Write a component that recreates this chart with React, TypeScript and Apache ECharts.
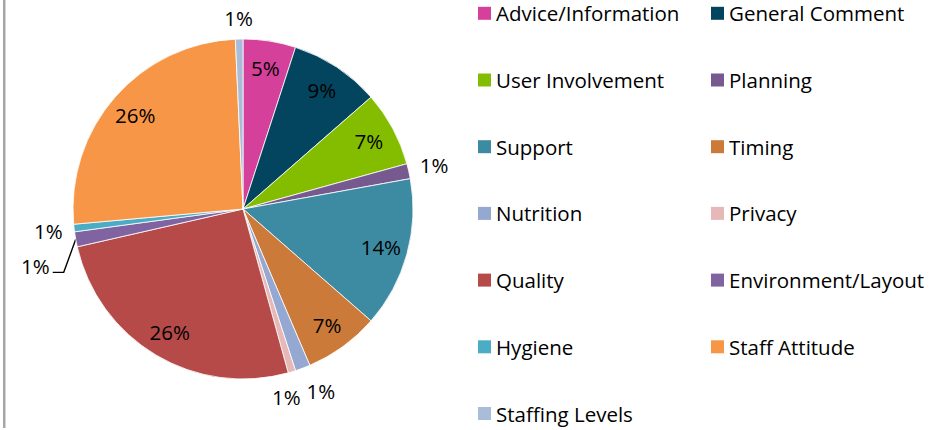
import React, { useEffect, useRef } from "react";
import * as echarts from "echarts";

const categories = [
  "Advice/Information",
  "General Comment",
  "User Involvement",
  "Planning",
  "Support",
  "Timing",
  "Nutrition",
  "Privacy",
  "Quality",
  "Environment/Layout",
  "Hygiene",
  "Staff Attitude",
  "Staffing Levels",
];
const values = [7, 12, 10, 2, 20, 10, 2, 1, 36, 2, 1, 36, 1];
const colors = [
  "#D4409A",
  "#03455E",
  "#84BD00",
  "#75598F",
  "#3D8BA3",
  "#CB7A39",
  "#94A8D2",
  "#E6B8B7",
  "#B54A48",
  "#8064A2",
  "#4BACC6",
  "#F79646",
  "#A9BCD9",
];
const leaderLabel = "Environment/Layout";

const FONT = "'Open Sans', 'Noto Sans', sans-serif";

export default function App() {
  const ref = useRef<HTMLDivElement>(null);
  useEffect(() => {
    document.body.style.margin = "0";
    const chart = echarts.init(ref.current!, undefined, { renderer: "svg" });
    const total = values.reduce((a, b) => a + b, 0);
    const pct = (v: number) => Math.round((v / total) * 100);
    const fmt = (p: any) => Math.round(p.percent) + "%";
    const center = [243, 209];
    const labelStyle = { color: "#000", fontSize: 20.5, fontFamily: FONT };

    const mainData = categories.map((name, i) => ({
      name,
      value: values[i],
      itemStyle: { color: colors[i] },
      label: { show: name === leaderLabel },
      labelLine: { show: name === leaderLabel },
    }));
    const innerData = categories.map((name, i) => ({
      name,
      value: values[i],
      label: { show: pct(values[i]) >= 3 },
    }));
    const outerData = categories.map((name, i) => ({
      name,
      value: values[i],
      label: { show: pct(values[i]) < 3 && name !== leaderLabel },
    }));

    const legendItem = (i: number) => ({
      name: categories[i],
      itemStyle: { color: colors[i] },
    });
    const leftIdx = categories.map((_, i) => i).filter((i) => i % 2 === 0);
    const rightIdx = categories.map((_, i) => i).filter((i) => i % 2 === 1);
    const legendBase = {
      orient: "vertical",
      top: 2.3,
      padding: 0,
      itemWidth: 13,
      itemHeight: 13,
      itemGap: 44.7,
      icon: "rect",
      selectedMode: false,
      textStyle: {
        color: "#000",
        fontSize: 20.5,
        fontFamily: FONT,
        lineHeight: 22,
      },
      itemStyle: { borderWidth: 0 },
    };

    // nudges for crowded small labels (Excel-style)
    const outerNudge: Record<string, [number, number]> = {
      Nutrition: [9, -2],
      Privacy: [-13, 0],
      "Staffing Levels": [0, 5],
    };

    chart.setOption({
      animation: false,
      legend: [
        { ...legendBase, left: 478, data: leftIdx.map(legendItem) },
        { ...legendBase, left: 711, data: rightIdx.map(legendItem) },
      ],
      graphic: [
        {
          type: "rect",
          shape: { x: 3, y: 0, width: 2.5, height: 428 },
          style: { fill: "#A6A6A6" },
          silent: true,
        },
      ],
      series: [
        {
          type: "pie",
          center,
          radius: [0, 170],
          startAngle: 90,
          clockwise: true,
          avoidLabelOverlap: false,
          silent: true,
          itemStyle: { borderColor: "#ffffff", borderWidth: 0.8 },
          label: {
            position: "outside",
            formatter: fmt,
            ...labelStyle,
          },
          labelLine: {
            length: 18,
            length2: 10,
            lineStyle: { color: "#000", width: 1.4 },
          },
          labelLayout: (p: any) => {
            if (p.dataIndex !== categories.indexOf(leaderLabel)) return {};
            const pts = p.labelLinePoints;
            if (!pts || !pts[0]) return {};
            const [x0, y0] = pts[0];
            const y1 = y0 + 33;
            const x1 = x0 - 12;
            const x2 = x1 - 11;
            return {
              x: x2 - 3,
              y: y1 - 6,
              align: "right",
              verticalAlign: "middle",
              labelLinePoints: [
                [x0, y0],
                [x1, y1],
                [x2, y1],
              ],
            };
          },
          data: mainData,
        },
        {
          type: "pie",
          center,
          radius: [110, 170],
          startAngle: 90,
          clockwise: true,
          silent: true,
          avoidLabelOverlap: false,
          itemStyle: { color: "rgba(0,0,0,0)" },
          label: { position: "inside", formatter: fmt, ...labelStyle },
          labelLine: { show: false },
          data: innerData,
        },
        {
          type: "pie",
          center,
          radius: [168, 218],
          startAngle: 90,
          clockwise: true,
          silent: true,
          avoidLabelOverlap: false,
          itemStyle: { color: "rgba(0,0,0,0)" },
          label: { position: "inside", formatter: fmt, ...labelStyle },
          labelLine: { show: false },
          labelLayout: (p: any) => {
            const n = outerNudge[categories[p.dataIndex]];
            return n
              ? { hideOverlap: false, dx: n[0], dy: n[1] }
              : { hideOverlap: false };
          },
          data: outerData,
        },
      ],
    });
    return () => chart.dispose();
  }, []);
  return <div ref={ref} style={{ width: 945, height: 430 }} />;
}
